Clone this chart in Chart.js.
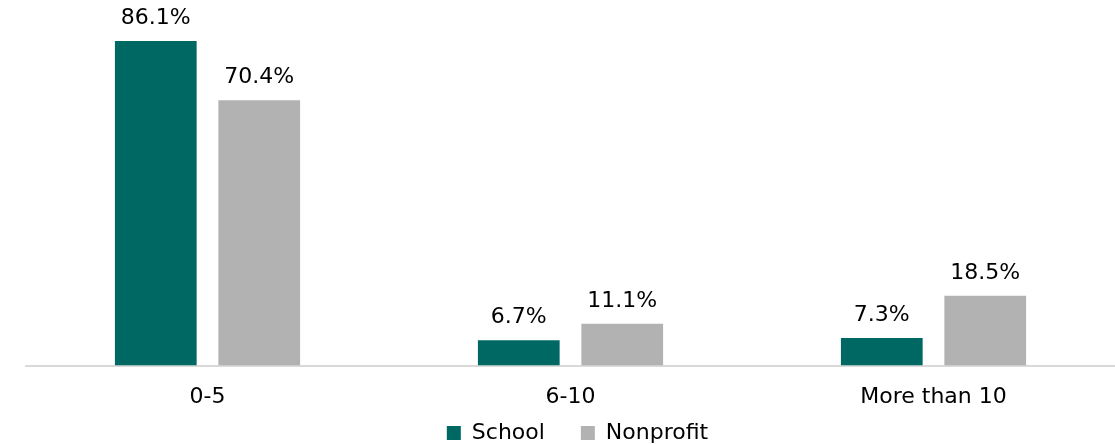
<!DOCTYPE html>
<html>
<head>
<meta charset="utf-8">
<script src="https://cdn.jsdelivr.net/npm/chart.js@4/dist/chart.umd.min.js"></script>
<style>
  body { margin: 0; background: #fff; }
  #wrap { width: 1115px; height: 444px; }
</style>
</head>
<body>
<div id="wrap"><canvas id="chart"></canvas></div>
<script>
const categories = ['0-5', '6-10', 'More than 10'];
const schoolValues = [86.1, 6.7, 7.3];
const nonprofitValues = [70.4, 11.1, 18.5];

const fontFamily = '"DejaVu Sans", sans-serif';

// draws the value above each bar
const valueLabels = {
  id: 'valueLabels',
  afterDatasetsDraw(chart) {
    const ctx = chart.ctx;
    ctx.save();
    ctx.font = '22px ' + fontFamily;
    ctx.fillStyle = '#000';
    ctx.textAlign = 'center';
    ctx.textBaseline = 'alphabetic';
    chart.data.datasets.forEach((ds, i) => {
      chart.getDatasetMeta(i).data.forEach((bar, j) => {
        ctx.fillText(ds.data[j].toFixed(1) + '%', bar.x, bar.y - 17);
      });
    });
    ctx.restore();
  }
};

// pull the legend up closer to the tick labels
const legendShift = {
  id: 'legendShift',
  afterLayout(chart) {
    const lg = chart.legend;
    lg.top -= 34;
    lg.bottom -= 34;
    lg.left += 7;
    lg.right += 7;
  }
};

const ctx = document.getElementById('chart').getContext('2d');
new Chart(ctx, {
  type: 'bar',
  data: {
    labels: categories,
    datasets: [
      {
        label: 'School',
        data: schoolValues,
        backgroundColor: '#006863',
        categoryPercentage: 0.57,
        barPercentage: 0.79
      },
      {
        label: 'Nonprofit',
        data: nonprofitValues,
        backgroundColor: '#b2b2b2',
        categoryPercentage: 0.57,
        barPercentage: 0.79
      }
    ]
  },
  options: {
    responsive: true,
    maintainAspectRatio: false,
    animation: false,
    layout: { padding: { left: 26, right: 0, top: 0, bottom: -44 } },
    plugins: {
      legend: {
        position: 'bottom',
        labels: {
          boxWidth: 14,
          boxHeight: 14,
          padding: 36,
          color: '#000',
          font: { family: fontFamily, size: 22 }
        }
      },
      tooltip: { enabled: false }
    },
    scales: {
      x: {
        grid: { display: false },
        border: { color: '#d9d9d9', width: 2 },
        ticks: {
          color: '#000',
          padding: 10,
          font: { family: fontFamily, size: 22 }
        }
      },
      y: {
        display: false,
        min: 0,
        max: 97
      }
    }
  },
  plugins: [valueLabels, legendShift]
});
</script>
</body>
</html>
